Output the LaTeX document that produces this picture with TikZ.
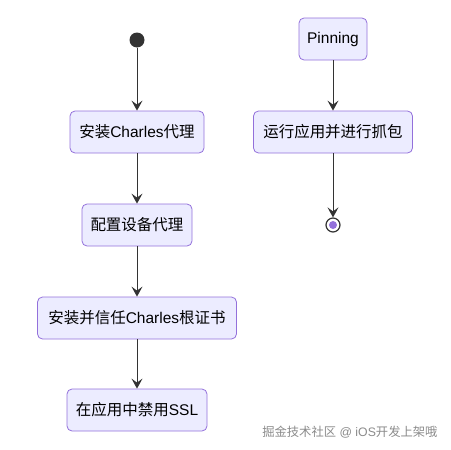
\documentclass[tikz,border=0pt]{standalone}
\usepackage{fontspec}
\setmainfont{Liberation Sans}
\newfontfamily\cjk{Noto Sans CJK SC}
\usetikzlibrary{arrows.meta}
\definecolor{boxfill}{HTML}{ECECFF}
\definecolor{boxline}{HTML}{9370DB}
\definecolor{edge}{HTML}{333333}
\definecolor{wm}{HTML}{8A8A8A}
\newcommand{\C}[1]{{\cjk #1}}
\begin{document}
\begin{tikzpicture}[x=1pt,y=-1pt,
  statebox/.style={draw=boxline, fill=boxfill, line width=0.8pt, rounded corners=5pt,
    minimum height=42pt, inner xsep=6pt, font=\fontsize{15.5}{17}\selectfont},
  flow/.style={draw=edge, line width=1pt, -{Stealth[length=10pt,width=11pt,inset=4pt]}}]
\useasboundingbox (0,0) rectangle (451,450);
\node[circle, fill=edge, minimum size=15pt, inner sep=0pt] (start) at (137,40) {};
\node[statebox, minimum width=134pt] (a) at (137,132) {\C{安装}Charles\C{代理}};
\node[statebox, minimum width=110pt] (b) at (137,225) {\C{配置设备代理}};
\node[statebox, minimum width=199pt] (c) at (137,318) {\C{安装并信任}Charles\C{根证书}};
\node[statebox, minimum width=140pt] (d) at (137,410) {\C{在应用中禁用}SSL};
\node[statebox, minimum width=68pt] (p) at (333,39) {Pinning};
\node[statebox, minimum width=159pt] (r) at (333,132) {\C{运行应用并进行抓包}};
\node[circle, draw=edge, fill=white, line width=1.2pt, minimum size=14pt, inner sep=0pt] (end) at (333,225) {};
\node[circle, fill=boxline, minimum size=8pt, inner sep=0pt] at (end) {};
\draw[flow] (start) -- (a);
\draw[flow] (a) -- (b);
\draw[flow] (b) -- (c);
\draw[flow] (c) -- (d);
\draw[flow] (p) -- (r);
\draw[flow] (r) -- (end);
\node[text=wm, font=\fontsize{12.3}{14}\selectfont, anchor=east] (w) at (441,432) {\C{掘金技术社区} @ iOS\C{开发上架哦}};
\end{tikzpicture}
\end{document}
